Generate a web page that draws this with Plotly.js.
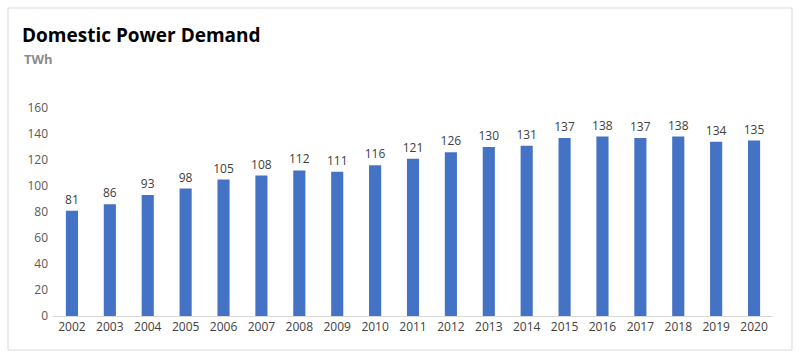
<!DOCTYPE html>
<html><head><meta charset="utf-8">
<script src="https://cdn.plot.ly/plotly-3.0.1.min.js"></script>
<style>html,body{margin:0;padding:0;background:#fff}#c{width:801px;height:359px}</style>
</head><body><div id="c"></div>
<script>
const years = ["2002","2003","2004","2005","2006","2007","2008","2009","2010","2011","2012","2013","2014","2015","2016","2017","2018","2019","2020"];
const demand = [81,86,93,98,105,108,112,111,116,121,126,130,131,137,138,137,138,134,135];
const yTicks = [0,20,40,60,80,100,120,140,160];

const W = 801, H = 359, L = 53, R = 28, T = 108, B = 43;
const pw = W - L - R, ph = H - T - B;
const px = v => (v - L) / pw;
const py = v => (H - B - v) / ph;

Plotly.newPlot('c', [{
  type: 'bar', x: years, y: demand,
  marker: {color: '#4472C4'},
  text: demand.map(String), textposition: 'outside', cliponaxis: false, constraintext: 'none',
  textfont: {family: 'Open Sans, sans-serif', size: 12, color: '#404040'},
  hoverinfo: 'none'
}], {
  width: W, height: H,
  margin: {l: L, r: R, t: T, b: B, pad: 0},
  paper_bgcolor: '#fff', plot_bgcolor: '#fff',
  bargap: 0.68,
  showlegend: false,
  font: {family: 'Open Sans, sans-serif'},
  title: {text: '<b>Domestic Power Demand</b>', x: 22/W, xanchor: 'left', y: 1 - 35/H, yanchor: 'middle',
          font: {family: 'Open Sans, sans-serif', size: 19, color: '#000'}},
  xaxis: {type: 'category', tickvals: years, ticktext: years, showgrid: false, showline: true, linecolor: '#d9d9d9', linewidth: 1,
          ticks: '', tickfont: {size: 12, color: '#404040'}, zeroline: false},
  yaxis: {range: [0, 160], tickvals: yTicks, showgrid: false, showline: false, zeroline: false, ticks: '',
          tickfont: {size: 12, color: '#595959'}, ticklabelstandoff: 4},
  annotations: [{text: '<b>TWh</b>', xref: 'paper', yref: 'paper', x: px(22), y: py(59), xanchor: 'left', yanchor: 'middle',
                 showarrow: false, font: {size: 13, color: '#8c8c8c', family: 'Open Sans, sans-serif'}}],
  shapes: [{type: 'rect', xref: 'paper', yref: 'paper', x0: px(8), x1: px(792), y0: py(350), y1: py(8),
            line: {color: '#d9d9d9', width: 1}, fillcolor: 'rgba(0,0,0,0)', layer: 'below'}]
}, {displayModeBar: false, staticPlot: true});
</script></body></html>
